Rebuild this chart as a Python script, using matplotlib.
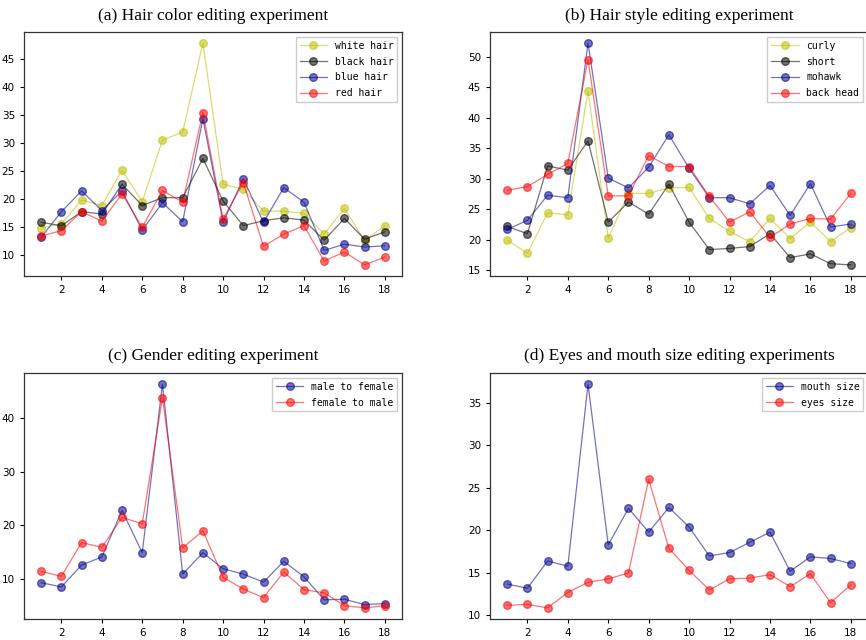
import matplotlib
matplotlib.use("Agg")
import matplotlib.pyplot as plt

steps = list(range(1, 19))

# (a) hair colour
white_hair = [14.8, 15.5, 19.8, 18.8, 25.1, 19.5, 30.5, 31.9, 47.8, 22.6, 21.7, 17.8, 17.8, 17.4, 13.7, 18.3, 12.5, 15.2]
black_hair = [15.8, 15.2, 17.7, 17.3, 22.6, 18.8, 20.2, 20.2, 27.2, 19.6, 15.2, 16.1, 16.6, 16.2, 12.6, 16.5, 12.8, 14.1]
blue_hair = [13.1, 17.7, 21.4, 17.9, 21.4, 14.4, 19.3, 15.9, 34.3, 15.8, 23.6, 15.8, 22.0, 19.4, 10.8, 11.9, 11.4, 11.6]
red_hair = [13.4, 14.3, 17.7, 16.0, 20.9, 14.9, 21.5, 19.4, 35.4, 16.4, 22.9, 11.5, 13.7, 15.2, 8.9, 10.5, 8.2, 9.6]

# (b) hair style
curly = [20.0, 17.8, 24.4, 24.1, 44.4, 20.3, 27.6, 27.6, 28.5, 28.6, 23.5, 21.4, 19.7, 23.5, 20.2, 22.9, 19.7, 22.0]
short = [22.2, 21.0, 32.1, 31.4, 36.2, 22.9, 26.2, 24.2, 29.1, 22.9, 18.4, 18.6, 18.9, 21.0, 17.1, 17.7, 16.1, 15.9]
mohawk = [21.7, 23.2, 27.3, 26.9, 52.2, 30.1, 28.5, 31.9, 37.2, 31.7, 26.9, 26.9, 25.9, 28.9, 24.0, 29.2, 22.1, 22.6]
back_head = [28.1, 28.7, 30.7, 32.5, 49.5, 27.2, 27.2, 33.8, 32.0, 32.0, 27.1, 22.9, 24.6, 20.4, 22.6, 23.5, 23.4, 27.6]

# (c) gender
male_to_female = [9.3, 8.5, 12.6, 14.1, 22.8, 14.9, 46.4, 10.9, 14.9, 11.9, 10.9, 9.4, 13.3, 10.4, 6.1, 6.2, 5.2, 5.4]
female_to_male = [11.4, 10.5, 16.8, 15.9, 21.5, 20.3, 43.9, 15.8, 19.0, 10.3, 8.1, 6.5, 11.3, 8.0, 7.4, 5.0, 4.6, 5.0]

# (d) eyes and mouth size
mouth_size = [13.7, 13.2, 16.4, 15.8, 37.2, 18.3, 22.6, 19.8, 22.7, 20.4, 17.0, 17.4, 18.6, 19.8, 15.2, 16.9, 16.7, 16.1]
eyes_size = [11.2, 11.3, 10.9, 12.7, 13.9, 14.3, 15.0, 26.0, 17.9, 15.3, 13.0, 14.3, 14.4, 14.8, 13.4, 14.9, 11.5, 13.6]

titles = [
    "(a) Hair color editing experiment",
    "(b) Hair style editing experiment",
    "(c) Gender editing experiment",
    "(d) Eyes and mouth size editing experiments",
]

YEL = "#bfbf00"
BLK = "black"
BLU = "#00008b"
RED = "red"

panels = [
    [("white hair", white_hair, YEL), ("black hair", black_hair, BLK),
     ("blue hair", blue_hair, BLU), ("red hair", red_hair, RED)],
    [("curly", curly, YEL), ("short", short, BLK),
     ("mohawk", mohawk, BLU), ("back head", back_head, RED)],
    [("male to female", male_to_female, BLU), ("female to male", female_to_male, RED)],
    [("mouth size", mouth_size, BLU), ("eyes size", eyes_size, RED)],
]

W, H = 866, 640
rects = [
    (24, 32, 378, 244),
    (490, 32, 378, 244),
    (24, 373, 378, 246),
    (490, 373, 378, 246),
]

fig = plt.figure(figsize=(W / 100, H / 100), dpi=100)

for (x0, y0, w, h), title, series in zip(rects, titles, panels):
    ax = fig.add_axes([x0 / W, 1 - (y0 + h) / H, w / W, h / H])
    for label, vals, col in series:
        ax.plot(steps, vals, marker="o", color=col, alpha=0.55, linewidth=0.9,
                markersize=5.5, label=label)
    ax.set_xticks(range(2, 19, 2))
    ax.tick_params(labelsize=7.5, length=3, width=0.8)
    for sp in ax.spines.values():
        sp.set_linewidth(0.9)
        sp.set_color("#333333")
    ax.set_title(title, family="Liberation Serif", fontsize=12.5, pad=9)
    ax.legend(loc="upper right", prop={"family": "DejaVu Sans Mono", "size": 7},
              handlelength=2.8, labelspacing=0.6, borderaxespad=0.5,
              fancybox=False, framealpha=1, edgecolor="#cccccc")

fig.savefig("out.png", dpi=100)
